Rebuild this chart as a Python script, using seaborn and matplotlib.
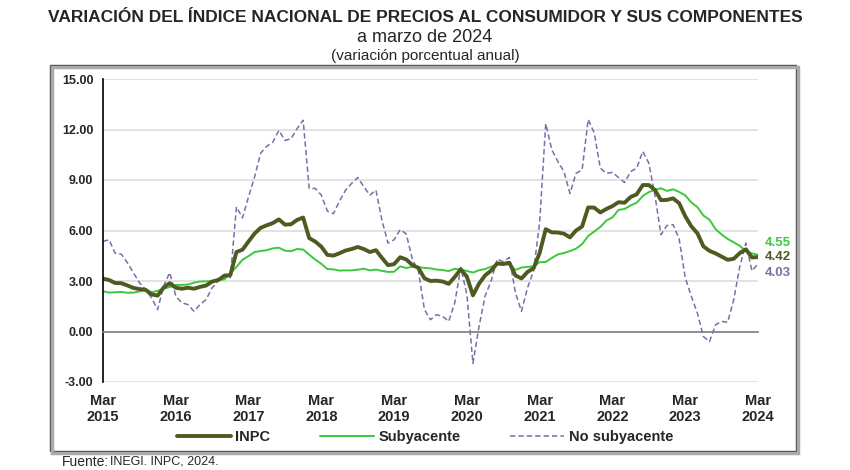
import numpy as np
import pandas as pd
import seaborn as sns
import matplotlib.pyplot as plt
from matplotlib.patches import Rectangle

# variación porcentual anual, mensual de mar 2015 a mar 2024
inpc = [3.14, 3.06, 2.88, 2.87, 2.74, 2.59, 2.52, 2.48, 2.21, 2.13,
        2.61, 2.87, 2.60, 2.54, 2.60, 2.54, 2.65, 2.73, 2.97, 3.06, 3.31, 3.36,
        4.72, 4.86, 5.35, 5.82, 6.16, 6.31, 6.44, 6.66, 6.35, 6.37, 6.63, 6.77,
        5.55, 5.34, 5.04, 4.55, 4.51, 4.65, 4.81, 4.90, 5.02, 4.90, 4.72, 4.83,
        4.37, 3.94, 4.00, 4.41, 4.28, 3.95, 3.78, 3.16, 3.00, 3.02, 2.97, 2.83,
        3.24, 3.70, 3.25, 2.15, 2.84, 3.33, 3.62, 4.05, 4.01, 4.09, 3.33, 3.15,
        3.54, 3.76, 4.67, 6.08, 5.89, 5.88, 5.81, 5.59, 6.00, 6.24, 7.37, 7.36,
        7.07, 7.28, 7.45, 7.68, 7.65, 7.99, 8.15, 8.70, 8.70, 8.41, 7.80, 7.82,
        7.91, 7.62, 6.85, 6.25, 5.84, 5.06, 4.79, 4.64, 4.45, 4.26, 4.32, 4.66,
        4.88, 4.40, 4.42]

subyacente = [2.39, 2.31, 2.33, 2.35, 2.30, 2.31, 2.38, 2.47, 2.33, 2.41,
              2.54, 2.64, 2.76, 2.77, 2.79, 2.90, 2.97, 2.98, 2.99, 3.05, 3.09, 3.44,
              3.84, 4.26, 4.48, 4.72, 4.78, 4.83, 4.94, 4.98, 4.80, 4.77, 4.90, 4.87,
              4.56, 4.27, 4.02, 3.71, 3.69, 3.62, 3.63, 3.63, 3.67, 3.73, 3.63, 3.68,
              3.60, 3.54, 3.55, 3.87, 3.77, 3.85, 3.82, 3.78, 3.75, 3.68, 3.65, 3.59,
              3.73, 3.66, 3.60, 3.50, 3.64, 3.71, 3.85, 3.97, 3.99, 3.98, 3.66, 3.80,
              3.84, 3.87, 4.12, 4.13, 4.37, 4.58, 4.66, 4.78, 4.92, 5.19, 5.67, 5.94,
              6.21, 6.59, 6.78, 7.22, 7.28, 7.49, 7.65, 8.05, 8.28, 8.42, 8.51, 8.35,
              8.45, 8.29, 8.09, 7.67, 7.39, 6.89, 6.64, 6.08, 5.76, 5.50, 5.30, 5.09,
              4.76, 4.64, 4.55]

no_subyacente = [5.35, 5.45, 4.65, 4.60, 4.10, 3.50, 2.90, 2.50, 2.00, 1.30,
                 2.70, 3.50, 2.10, 1.70, 1.60, 1.20, 1.60, 1.90, 2.60, 3.00, 3.40, 3.20,
                 7.40, 6.75, 8.00, 9.20, 10.60, 11.00, 11.25, 11.95, 11.35, 11.45, 12.05, 12.55,
                 8.50, 8.50, 8.10, 7.15, 7.00, 7.75, 8.40, 8.80, 9.15, 8.60, 8.10, 8.40,
                 6.60, 5.25, 5.45, 6.05, 5.80, 4.30, 3.60, 1.30, 0.70, 1.00, 0.90, 0.60,
                 1.70, 3.80, 2.20, -1.90, 0.30, 2.10, 3.00, 4.30, 4.15, 4.40, 2.30, 1.20,
                 2.60, 3.60, 6.50, 12.35, 10.80, 10.10, 9.50, 8.20, 9.40, 9.60, 12.60, 11.80,
                 9.70, 9.40, 9.45, 9.15, 8.85, 9.50, 9.70, 10.70, 10.00, 8.10, 5.75, 6.30,
                 6.35, 5.50, 3.20, 2.10, 1.10, -0.30, -0.60, 0.40, 0.60, 0.55, 1.90, 3.85,
                 5.25, 3.60, 4.03]

anios = list(range(2015, 2025))
etiquetas_x = ["Mar\n" + str(a) for a in anios]
ticks_y = [-3, 0, 3, 6, 9, 12, 15]

c_inpc = "#4d5a20"
c_sub = "#3cc83c"
c_nosub = "#7a6ea6"

df = pd.DataFrame({"mes": np.arange(len(inpc)), "INPC": inpc,
                   "Subyacente": subyacente, "No subyacente": no_subyacente})

sns.set_style("white")
plt.rcParams['font.family'] = ['Liberation Sans', 'DejaVu Sans']

fig = plt.figure(figsize=(8.5, 4.7), dpi=100)
ax = fig.add_axes([103 / 850, 88 / 470, 655 / 850, 303 / 470])

sns.lineplot(data=df, x="mes", y="No subyacente", ax=ax, color=c_nosub, lw=1.1,
             linestyle=(0, (3.5, 2)), label="No subyacente")
sns.lineplot(data=df, x="mes", y="Subyacente", ax=ax, color=c_sub, lw=1.4, label="Subyacente")
sns.lineplot(data=df, x="mes", y="INPC", ax=ax, color=c_inpc, lw=2.8, label="INPC")
if ax.get_legend() is not None:
    ax.get_legend().remove()

# el eje x cruza en 0 (mover la espina antes de fijar las etiquetas)
for s in ["top", "right"]:
    ax.spines[s].set_visible(False)
ax.spines["bottom"].set_position(("data", 0))
ax.spines["bottom"].set_color("#808080")
ax.spines["bottom"].set_linewidth(1.2)
ax.spines["left"].set_color("black")
ax.spines["left"].set_linewidth(1.2)

ax.set_xlim(0, 108)
ax.set_ylim(-3, 15)
ax.set_xlabel("")
ax.set_ylabel("")
ax.set_yticks(ticks_y)
ax.set_yticklabels([f"{v:.2f}" for v in ticks_y], fontweight="bold", fontsize=9)
ax.set_xticks(range(0, 109, 12))
ax.set_xticklabels(etiquetas_x, fontweight="bold", fontsize=10.5, linespacing=1.2)
ax.yaxis.grid(True, color="#dddddd", lw=1.2)
ax.set_axisbelow(True)
ax.tick_params(axis="x", direction="inout", length=8, width=1, color="black", pad=41)
ax.tick_params(axis="y", direction="out", length=5, width=1, color="black", pad=2)

# etiquetas al final de cada serie
ax.annotate(f"{subyacente[-1]:.2f}", xy=(108, subyacente[-1]), xytext=(5, 8.5),
            textcoords="offset points", va="center", ha="left", color=c_sub,
            fontweight="bold", fontsize=9.5, annotation_clip=False)
ax.annotate(f"{inpc[-1]:.2f}", xy=(108, inpc[-1]), xytext=(5, 0),
            textcoords="offset points", va="center", ha="left", color=c_inpc,
            fontweight="bold", fontsize=9.5, annotation_clip=False)
ax.annotate(f"{no_subyacente[-1]:.2f}", xy=(108, no_subyacente[-1]), xytext=(5, -6.5),
            textcoords="offset points", va="center", ha="left", color=c_nosub,
            fontweight="bold", fontsize=9.5, annotation_clip=False)

# marco con sombra
fig.patches.append(Rectangle((52 / 850, 17 / 470), 746 / 850, 386 / 470,
                             transform=fig.transFigure, fill=False, ec="#aaaaaa", lw=2.5))
fig.patches.append(Rectangle((50 / 850, 19 / 470), 746 / 850, 386 / 470,
                             transform=fig.transFigure, fill=True, fc="white", ec="#444444", lw=1,
                             zorder=-1))

h, l = ax.get_legend_handles_labels()
orden = [l.index("INPC"), l.index("Subyacente"), l.index("No subyacente")]
fig.legend([h[i] for i in orden], [l[i] for i in orden], loc="center",
           bbox_to_anchor=(425 / 850, 33 / 470), ncol=3, frameon=False,
           handlelength=3.7, handletextpad=0.3, columnspacing=3.4,
           prop={"weight": "bold", "size": 10.5})

fig.text(0.5, 1 - 17 / 470, "VARIACIÓN DEL ÍNDICE NACIONAL DE PRECIOS AL CONSUMIDOR Y SUS COMPONENTES",
         ha="center", va="center", fontsize=12.5, fontweight="bold")
fig.text(0.5, 1 - 38 / 470, "a marzo de 2024", ha="center", va="center", fontsize=13)
fig.text(0.5, 1 - 56 / 470, "(variación porcentual anual)", ha="center", va="center", fontsize=11)
fig.text(62 / 850, 1 - 462 / 470, "Fuente:", ha="left", va="center", fontsize=10)
fig.text(110 / 850, 1 - 462 / 470, "INEGI. INPC, 2024.", ha="left", va="center", fontsize=9)

fig.savefig("out.png", dpi=100)
